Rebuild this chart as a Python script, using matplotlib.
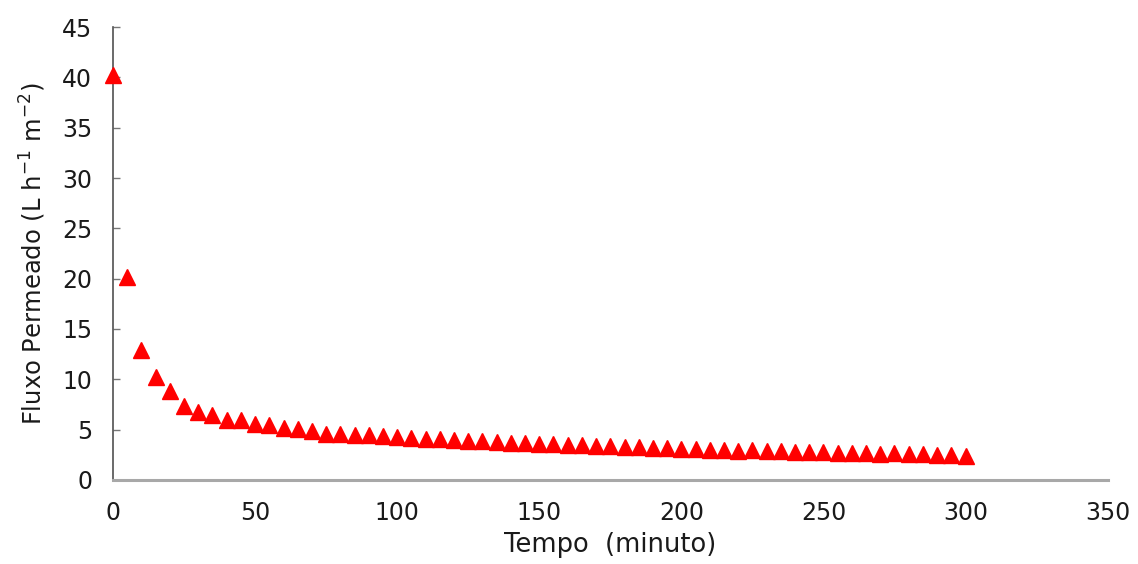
import matplotlib.pyplot as plt
import numpy as np

plt.rcParams['font.family'] = ['DejaVu Sans']
plt.rcParams['mathtext.fontset'] = 'dejavusans'

# tempo (minutos) e fluxo permeado
tempo = np.arange(0, 301, 5)
fluxo = [40.2, 20.2, 12.9, 10.2, 8.8, 7.3, 6.8, 6.5, 6.0, 6.0,
         5.6, 5.5, 5.2, 5.1, 4.9, 4.6, 4.6, 4.5, 4.5, 4.4,
         4.3, 4.2, 4.1, 4.1, 4.0, 3.9, 3.9, 3.8, 3.7, 3.7,
         3.6, 3.6, 3.5, 3.5, 3.4, 3.4, 3.3, 3.3, 3.2, 3.2,
         3.1, 3.1, 3.0, 3.0, 2.9, 3.0, 2.9, 2.9, 2.8, 2.8,
         2.8, 2.7, 2.7, 2.7, 2.6, 2.7, 2.6, 2.6, 2.5, 2.5,
         2.4]

fig = plt.figure(figsize=(11.38, 5.64), dpi=100)
ax = fig.add_axes([0.0993, 0.149, 0.874, 0.803])

ax.plot(tempo, fluxo, linestyle='none', marker='^', markersize=12,
        color='#ff0000', clip_on=False, zorder=3)

ax.set_xlim(0, 350)
ax.set_ylim(0, 45)
ax.set_xticks(np.arange(0, 351, 50))
ax.set_yticks(np.arange(0, 46, 5))

for s in ['top', 'right']:
    ax.spines[s].set_visible(False)
ax.spines['left'].set_color('#505050')
ax.spines['left'].set_linewidth(1.2)
ax.spines['bottom'].set_color('#a8a8a8')
ax.spines['bottom'].set_linewidth(2.2)

ax.tick_params(axis='y', direction='in', length=5, width=1, color='#777777',
               pad=15, labelsize=17, labelcolor='#1a1a1a')
ax.tick_params(axis='x', length=0, pad=15, labelsize=17, labelcolor='#1a1a1a')

ax.set_xlabel('Tempo  (minuto)', fontsize=18.5, color='#1a1a1a', labelpad=5)
ax.set_ylabel('Fluxo Permeado (L h$^{\\mathregular{-1}}$ m$^{\\mathregular{-2}}$)',
              fontsize=17.5, color='#1a1a1a', labelpad=10)

plt.savefig('out.png', dpi=100)
